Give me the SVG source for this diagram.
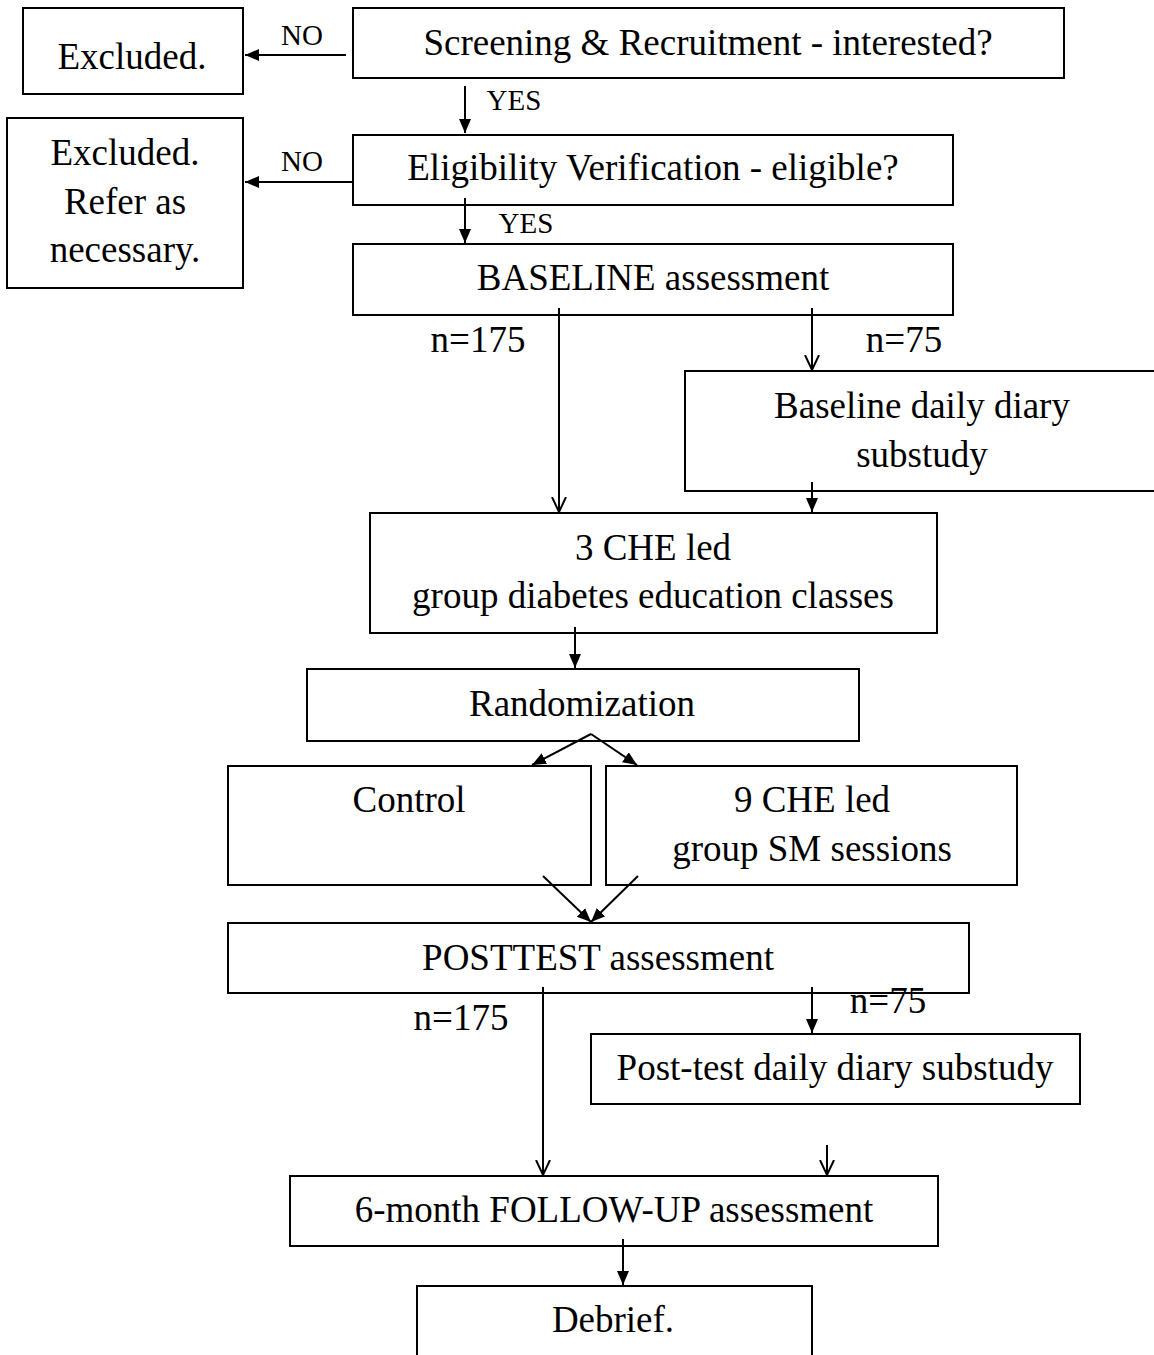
<svg xmlns="http://www.w3.org/2000/svg" width="1154" height="1355" viewBox="0 0 1154 1355">
<style>
.box{fill:#fff;stroke:#000;stroke-width:2}
.t{font-family:"Liberation Serif","Times New Roman",serif;font-size:37px;fill:#000;text-anchor:middle}
.s{font-family:"Liberation Serif","Times New Roman",serif;font-size:29px;fill:#000;text-anchor:middle}
.c{stroke:#000;stroke-width:2;fill:none}
.f{marker-end:url(#fill)}
.o{marker-end:url(#open)}
</style>
<defs>
<marker id="fill" markerUnits="userSpaceOnUse" markerWidth="16" markerHeight="16" refX="14" refY="6" orient="auto"><path d="M0,0 L14,6 L0,12 Z" fill="#000"/></marker>
<marker id="open" markerUnits="userSpaceOnUse" markerWidth="20" markerHeight="20" refX="15" refY="8" orient="auto"><path d="M0,1 L15,8 L0,15" fill="none" stroke="#000" stroke-width="2"/></marker>
</defs>
<rect width="1154" height="1355" fill="#fff"/>
<g id="excluded1"><rect class="box" x="23" y="8" width="220" height="86"/><text class="t" x="132" y="69">Excluded.</text></g>
<g id="screening"><rect class="box" x="353" y="8" width="711" height="70"/><text class="t" x="708" y="55">Screening &amp; Recruitment - interested?</text></g>
<g id="excluded2"><rect class="box" x="7" y="118" width="236" height="170"/><text class="t" x="125" y="165">Excluded.</text><text class="t" x="125" y="214">Refer as</text><text class="t" x="125" y="262">necessary.</text></g>
<g id="eligibility"><rect class="box" x="353" y="135" width="600" height="70"/><text class="t" x="653" y="180">Eligibility Verification - eligible?</text></g>
<g id="baseline"><rect class="box" x="353" y="244" width="600" height="71"/><text class="t" x="653" y="290">BASELINE assessment</text></g>
<g id="diary1"><rect class="box" x="685" y="371" width="480" height="120"/><text class="t" x="922" y="418">Baseline daily diary</text><text class="t" x="922" y="467">substudy</text></g>
<g id="classes"><rect class="box" x="370" y="513" width="567" height="120"/><text class="t" x="653" y="560">3 CHE led</text><text class="t" x="653" y="608">group diabetes education classes</text></g>
<g id="randomization"><rect class="box" x="307" y="669" width="552" height="72"/><text class="t" x="582" y="716">Randomization</text></g>
<g id="control"><rect class="box" x="228" y="766" width="363" height="119"/><text class="t" x="409" y="812">Control</text></g>
<g id="sm"><rect class="box" x="606" y="766" width="411" height="119"/><text class="t" x="812" y="812">9 CHE led</text><text class="t" x="812" y="861">group SM sessions</text></g>
<g id="posttest"><rect class="box" x="228" y="923" width="741" height="70"/><text class="t" x="598" y="970">POSTTEST assessment</text></g>
<g id="diary2"><rect class="box" x="591" y="1034" width="489" height="70"/><text class="t" x="835" y="1080">Post-test daily diary substudy</text></g>
<g id="followup"><rect class="box" x="290" y="1176" width="648" height="70"/><text class="t" x="614" y="1222">6-month FOLLOW-UP assessment</text></g>
<g id="debrief"><rect class="box" x="417" y="1286" width="395" height="90"/><text class="t" x="613" y="1332">Debrief.</text></g>
<g id="connectors">
<line class="c f" x1="346" y1="55" x2="245" y2="55"/>
<text class="s" x="302" y="45">NO</text>
<line class="c f" x1="465" y1="86" x2="465" y2="133"/>
<text class="s" x="514" y="110">YES</text>
<line class="c f" x1="353" y1="182" x2="245" y2="182"/>
<text class="s" x="302" y="171">NO</text>
<line class="c f" x1="465" y1="198" x2="465" y2="243"/>
<text class="s" x="526" y="233">YES</text>
<text class="t" x="478" y="352">n=175</text>
<text class="t" x="904" y="352">n=75</text>
<line class="c o" x1="559" y1="308" x2="559" y2="512"/>
<line class="c o" x1="812" y1="308" x2="812" y2="370"/>
<line class="c f" x1="812" y1="482" x2="812" y2="512"/>
<line class="c f" x1="575" y1="627" x2="575" y2="668"/>
<line class="c f" x1="591" y1="734" x2="532" y2="765"/>
<line class="c f" x1="591" y1="734" x2="637" y2="765"/>
<line class="c f" x1="543" y1="876" x2="591" y2="922"/>
<line class="c f" x1="638" y1="876" x2="591" y2="922"/>
<text class="t" x="461" y="1030">n=175</text>
<text class="t" x="888" y="1013">n=75</text>
<line class="c o" x1="543" y1="987" x2="543" y2="1175"/>
<line class="c f" x1="812" y1="987" x2="812" y2="1033"/>
<line class="c o" x1="827" y1="1145" x2="827" y2="1175"/>
<line class="c f" x1="623" y1="1239" x2="623" y2="1285"/>
</g>
</svg>
